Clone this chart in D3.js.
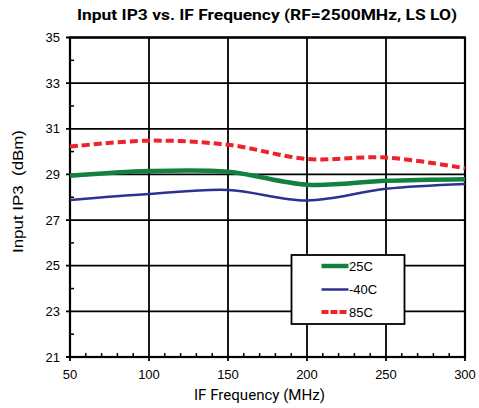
<!DOCTYPE html>
<html><head><meta charset="utf-8">
<script src="https://cdn.jsdelivr.net/npm/d3@7"></script>
<style>body{margin:0;background:#fff}</style>
</head><body>
<svg id="c" width="479" height="408"></svg>
<script>
const freqs = [50, 100, 150, 200, 250, 300];
const s25 = [28.94, 29.15, 29.12, 28.55, 28.72, 28.79];
const sM40 = [27.88, 28.14, 28.32, 27.86, 28.37, 28.58];
const s85 = [30.22, 30.48, 30.30, 29.68, 29.74, 29.27];
const xTicks = [50, 100, 150, 200, 250, 300];
const yTicks = [21, 23, 25, 27, 29, 31, 33, 35];
const series = [
  {name: "25C", values: s25, color: "#118040", width: 4.5, dash: null},
  {name: "-40C", values: sM40, color: "#2e3192", width: 2.5, dash: null},
  {name: "85C", values: s85, color: "#ee2229", width: 4, dash: "8,4"}
];

const svg = d3.select("#c");
const L = 70, R = 465, T = 37.5, B = 357;
const x = d3.scaleLinear().domain([50, 300]).range([L, R]);
const y = d3.scaleLinear().domain([21, 35]).range([B, T]);

// grid
const g = svg.append("g");
g.selectAll(".vg").data(xTicks).enter().append("line")
  .attr("x1", d => x(d)).attr("x2", d => x(d)).attr("y1", T).attr("y2", B + 4)
  .attr("stroke", "#000").attr("stroke-width", 1.8);
g.selectAll(".hg").data(yTicks).enter().append("line")
  .attr("x1", L - 4).attr("x2", R).attr("y1", d => y(d)).attr("y2", d => y(d))
  .attr("stroke", "#000").attr("stroke-width", 1.8);

// minor ticks
const xMinor = d3.range(50, 301, 10).filter(v => v % 50 !== 0);
g.selectAll(".xm").data(xMinor).enter().append("line")
  .attr("x1", d => x(d)).attr("x2", d => x(d)).attr("y1", B).attr("y2", B - 4)
  .attr("stroke", "#000").attr("stroke-width", 1.5);
const yMinor = d3.range(22, 35, 2);
g.selectAll(".ym").data(yMinor).enter().append("line")
  .attr("x1", L).attr("x2", L + 4).attr("y1", d => y(d)).attr("y2", d => y(d))
  .attr("stroke", "#000").attr("stroke-width", 1.5);

// frame
svg.append("rect").attr("x", L).attr("y", T).attr("width", R - L).attr("height", B - T)
  .attr("fill", "none").attr("stroke", "#000").attr("stroke-width", 2.2);

// tick labels
svg.selectAll(".xl").data(xTicks).enter().append("text")
  .attr("x", d => x(d)).attr("y", 379).attr("text-anchor", "middle")
  .attr("font-family", "Liberation Sans, Arial, sans-serif").attr("font-size", 13)
  .text(d => d);
svg.selectAll(".yl").data(yTicks).enter().append("text")
  .attr("x", 60).attr("y", d => y(d) + 4.5).attr("text-anchor", "end")
  .attr("font-family", "Liberation Sans, Arial, sans-serif").attr("font-size", 13)
  .text(d => d);

// lines
const line = d3.line().x((d, i) => x(freqs[i])).y(d => y(d)).curve(d3.curveCatmullRom.alpha(0.5));
svg.selectAll(".sr").data(series).enter().append("path")
  .attr("d", d => line(d.values)).attr("fill", "none")
  .attr("stroke", d => d.color).attr("stroke-width", d => d.width)
  .attr("stroke-dasharray", d => d.dash);

// legend
const lg = svg.append("g");
lg.append("rect").attr("x", 291.5).attr("y", 255).attr("width", 113).attr("height", 69)
  .attr("fill", "#fff").attr("stroke", "#000").attr("stroke-width", 1.8);
const rows = [266, 289.5, 312];
series.forEach((s, i) => {
  lg.append("line").attr("x1", 321.5).attr("x2", 348.5).attr("y1", rows[i]).attr("y2", rows[i])
    .attr("stroke", s.color).attr("stroke-width", s.width).attr("stroke-dasharray", s.dash ? "7,2" : null);
  lg.append("text").attr("x", 349).attr("y", rows[i] + 4.5)
    .attr("font-family", "Liberation Sans, Arial, sans-serif").attr("font-size", 13)
    .text(s.name);
});

// titles
svg.append("text").attr("x", 267).attr("y", 20).attr("text-anchor", "middle")
  .attr("font-family", "Roboto, sans-serif").attr("font-weight", "bold").attr("font-size", 15.5)
  .attr("textLength", 380).attr("lengthAdjust", "spacingAndGlyphs")
  .text("Input IP3 vs. IF Frequency (RF=2500MHz, LS LO)");
svg.append("text").attr("x", 259.5).attr("y", 400).attr("text-anchor", "middle")
  .attr("font-family", "Roboto, sans-serif").attr("font-size", 15)
  .attr("textLength", 131).attr("lengthAdjust", "spacingAndGlyphs")
  .text("IF Frequency (MHz)");
svg.append("text").attr("transform", "translate(23,191.5) rotate(-90)").attr("text-anchor", "middle")
  .attr("font-family", "Liberation Sans, Arial, sans-serif").attr("font-size", 14.5)
  .style("white-space", "pre").attr("xml:space", "preserve")
  .attr("textLength", 123).attr("lengthAdjust", "spacingAndGlyphs")
  .text("Input IP3  (dBm)");
</script>
</body></html>
